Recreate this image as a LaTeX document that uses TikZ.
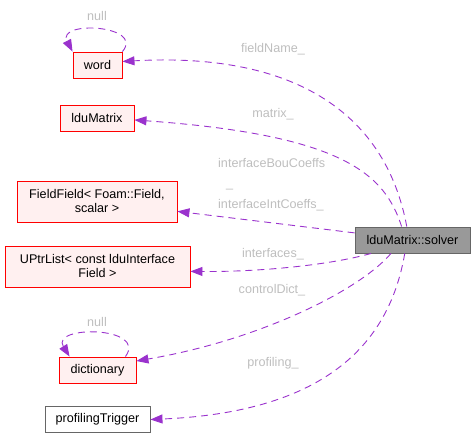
\documentclass[tikz,border=0pt]{standalone}
\usepackage{fontspec}
\setmainfont{Liberation Sans}
\usetikzlibrary{arrows.meta}

\definecolor{edgepurple}{HTML}{9A32CD}
\definecolor{labelgrey}{HTML}{BEBEBE}
\definecolor{memberfill}{HTML}{FFF0F0}
\definecolor{solverfill}{HTML}{999999}
\definecolor{boxgrey}{HTML}{666666}

\begin{document}
\begin{tikzpicture}[x=1pt,y=-1pt]
        \tikzstyle{every node}=[font=\fontsize{12.6}{14}\selectfont]
        \tikzstyle{member}=[draw=red, fill=memberfill, line width=0.9pt, inner sep=0pt, minimum height=26pt, align=center]
        \tikzstyle{plainbox}=[member, draw=boxgrey, fill=white]
        \tikzstyle{focus}=[member, draw=boxgrey, fill=solverfill]
        \tikzstyle{uses}=[draw=edgepurple, line width=0.9pt, dash pattern=on 7pt off 5pt, -{Triangle[length=12pt,width=9pt,fill=edgepurple]}]
        \tikzstyle{role}=[text=labelgrey, inner sep=0pt]

        \useasboundingbox (0,0) rectangle (475,438);

        \node[member, minimum width=49pt] (word) at (97.5,65) {word};
        \node[member, minimum width=74pt] (lduMatrix) at (97,118) {lduMatrix};
        \node[member, minimum width=160pt, minimum height=41pt] (fieldField) at (97,201.5) {FieldField< Foam::Field,\\scalar >};
        \node[member, minimum width=185pt, minimum height=41pt] (uPtrList) at (97.5,266.5) {UPtrList< const lduInterface\\Field >};
        \node[member, minimum width=77pt] (dictionary) at (97.5,370) {dictionary};
        \node[plainbox, minimum width=105pt] (profilingTrigger) at (97.5,419.5) {profilingTrigger};
        \node[focus, minimum width=115pt] (solver) at (412.5,240) {lduMatrix::solver};

        \draw[uses] (word.north east) .. controls (145,25) and (56,20) .. (word.north west);
        \draw[uses] ([xshift=-11pt]dictionary.north east) .. controls (148,326) and (50,325) .. ([xshift=11pt]dictionary.north west);

        \draw[uses] (solver.113) .. controls (385,110) and (290,52) .. (word.8);
        \draw[uses] (solver.129) .. controls (385,175) and (345,135) .. (lduMatrix.-3);
        \draw[uses] (solver.173) -- (fieldField.-7);
        \draw[uses] (solver.198) .. controls (330,265) and (260,272) .. (uPtrList.-3);
        \draw[uses] (solver.212) .. controls (360,290) and (260,340) .. (dictionary.13);
        \draw[uses] (solver.240) .. controls (390,340) and (330,412) .. (profilingTrigger.east);

        \node[role] (wordSelf) at (97,16) {null};
        \node[role] (dictSelf) at (97,322) {null};
        \node[role] (fieldName) at (273,49) {fieldName\_};
        \node[role] (matrix) at (273,114) {matrix\_};
        \node[role, align=left, anchor=west, font=\fontsize{12.6}{20.5}\selectfont] (coeffs) at (218,184.5) {interfaceBouCoeffs\\\hspace*{8pt}\_\\interfaceIntCoeffs\_};
        \node[role] (interfaces) at (273,254) {interfaces\_};
        \node[role] (controlDict) at (272,290) {controlDict\_};
        \node[role] (profiling) at (273,363) {profiling\_};

    \end{tikzpicture}
\end{document}
